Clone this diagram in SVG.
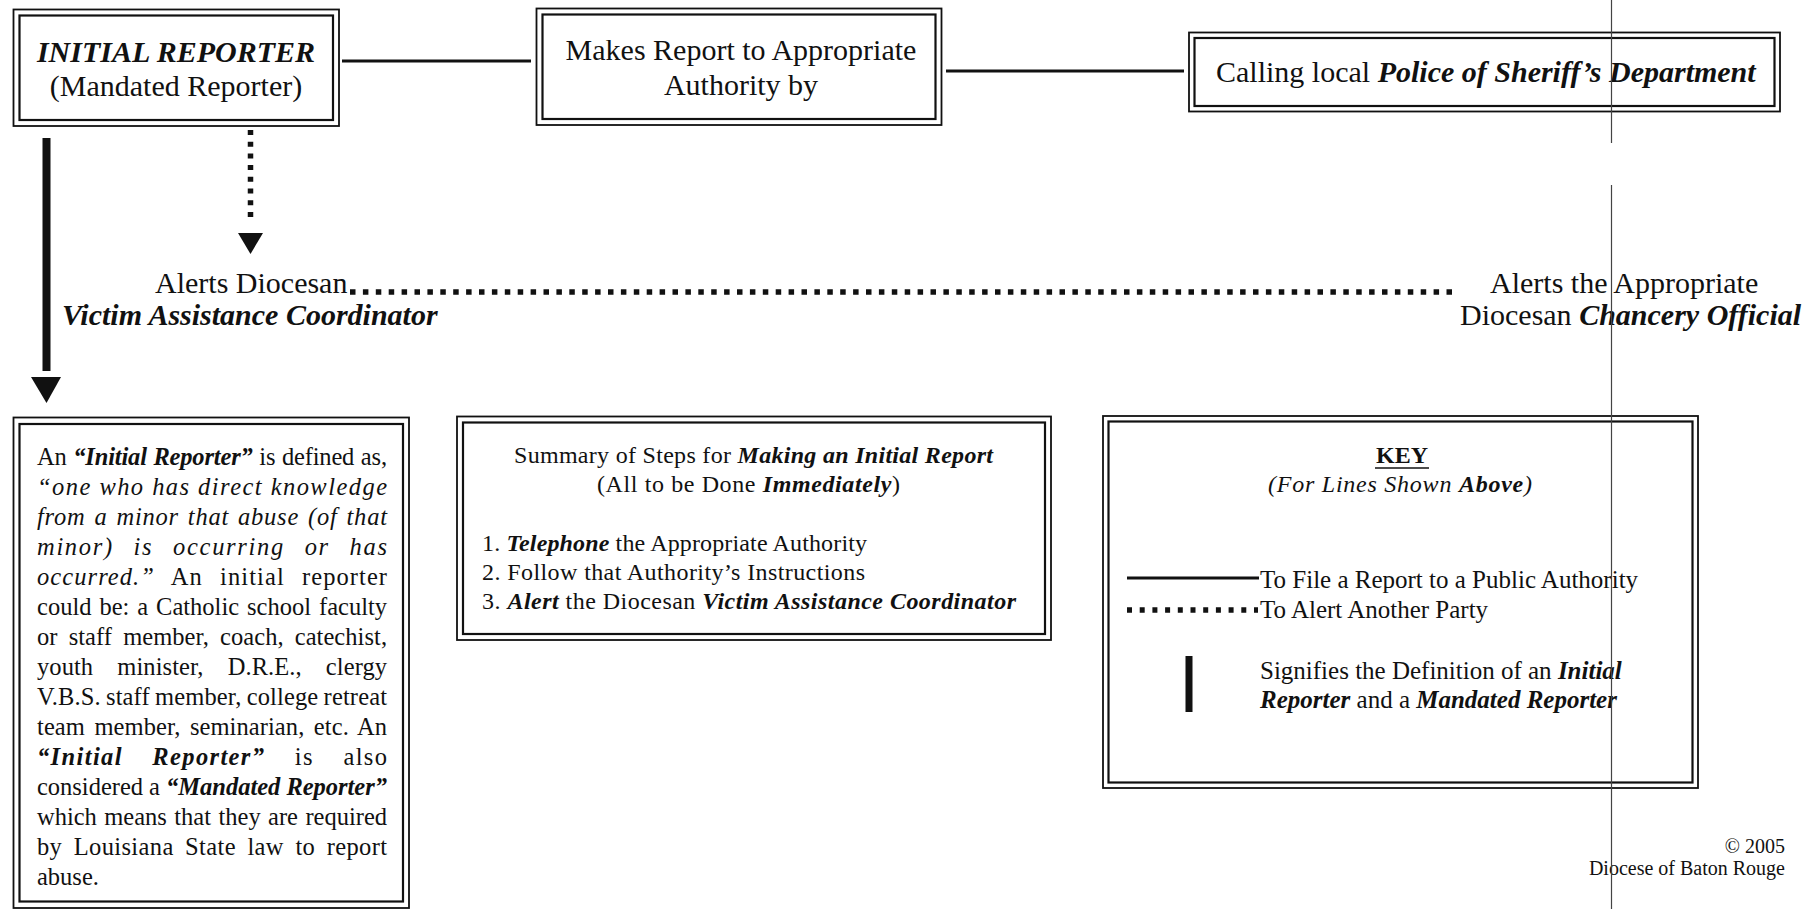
<svg xmlns="http://www.w3.org/2000/svg" width="1818" height="909" viewBox="0 0 1818 909">
<style>
  .t { font-family: "Liberation Serif", "Times New Roman", serif; fill: #111; }
  .b { font-weight: bold; }
  .i { font-style: italic; }
  .bi { font-weight: bold; font-style: italic; }
  .fo { fill: none; stroke: #111; stroke-width: 1.8; }
  .fi { fill: none; stroke: #111; stroke-width: 2.2; }
  .solid { stroke: #111; stroke-width: 3; fill: none; }
  .dots { stroke: #111; stroke-width: 5.5; fill: none; }
  .head { fill: #111; stroke: none; }
</style>
<rect width="1818" height="909" fill="#fff"/>

<g id="connectors">
  <line class="solid" x1="342" y1="61" x2="531" y2="61"/>
  <line class="solid" x1="946" y1="71" x2="1184" y2="71"/>
  <line class="dots" x1="250.5" y1="130" x2="250.5" y2="218" stroke-dasharray="5 6.7"/>
  <polygon class="head" points="238,233 263,233 250.5,254"/>
  <line class="dots" x1="350" y1="292" x2="1452" y2="292" stroke-dasharray="5.5 7.4"/>
  <rect class="head" x="42.5" y="138" width="8" height="233"/>
  <polygon class="head" points="31,377 61,377 46.5,403"/>
</g>

<g id="initial-reporter">
  <rect class="fo" x="13.5" y="9.5" width="325.5" height="116.5"/>
  <rect class="fi" x="19.5" y="15.5" width="313.5" height="104.5"/>
  <text class="t bi" x="176" y="62" font-size="30" text-anchor="middle">INITIAL REPORTER</text>
  <text class="t" x="176" y="96" font-size="30" text-anchor="middle">(Mandated Reporter)</text>
</g>

<g id="makes-report">
  <rect class="fo" x="536.5" y="8.5" width="405" height="116.5"/>
  <rect class="fi" x="542.5" y="14.5" width="393" height="104.5"/>
  <text class="t" x="741" y="60" font-size="30" text-anchor="middle">Makes Report to Appropriate</text>
  <text class="t" x="741" y="95" font-size="30" text-anchor="middle">Authority by</text>
</g>

<g id="calling-police">
  <rect class="fo" x="1189" y="32.5" width="591" height="79"/>
  <rect class="fi" x="1194.5" y="38" width="580" height="68"/>
  <text class="t" x="1216" y="82" font-size="30">Calling local <tspan class="bi">Police of Sheriff’s Department</tspan></text>
</g>

<g id="victim-coordinator">
  <text class="t" x="155" y="293" font-size="30">Alerts Diocesan</text>
  <text class="t bi" x="62" y="325" font-size="30">Victim Assistance Coordinator</text>
</g>

<g id="chancery-official">
  <text class="t" x="1490" y="293" font-size="30">Alerts the Appropriate</text>
  <text class="t" x="1460" y="325" font-size="30">Diocesan <tspan class="bi">Chancery Official</tspan></text>
</g>

<g id="definition">
  <rect class="fo" x="13.5" y="417.5" width="395.5" height="490.5"/>
  <rect class="fi" x="19.5" y="424" width="383.5" height="477.5"/>
  <g class="t" font-size="24.5">
    <text x="37" y="464.5" textLength="350" lengthAdjust="spacing" style="word-spacing:0.7px">An <tspan class="bi">“Initial Reporter”</tspan> is defined as,</text>
    <text class="i" x="37" y="494.5" textLength="350" lengthAdjust="spacing">“one who has direct knowledge</text>
    <text class="i" x="37" y="524.5" textLength="350" lengthAdjust="spacing" style="word-spacing:2px">from a minor that abuse (of that</text>
    <text class="i" x="37" y="554.5" textLength="350" lengthAdjust="spacing" style="word-spacing:12px">minor) is occurring or has</text>
    <text x="37" y="584.5" textLength="350" lengthAdjust="spacing" style="word-spacing:10px"><tspan class="i">occurred.”</tspan> An initial reporter</text>
    <text x="37" y="614.5" textLength="350" lengthAdjust="spacing" style="word-spacing:1.8px">could be: a Catholic school faculty</text>
    <text x="37" y="644.5" textLength="350" lengthAdjust="spacing" style="word-spacing:5px">or staff member, coach, catechist,</text>
    <text x="37" y="674.5" textLength="350" lengthAdjust="spacing" style="word-spacing:18px">youth minister, D.R.E., clergy</text>
    <text x="37" y="704.5" textLength="350" lengthAdjust="spacing" style="word-spacing:-1px">V.B.S. staff member, college retreat</text>
    <text x="37" y="734.5" textLength="350" lengthAdjust="spacing" style="word-spacing:3.3px">team member, seminarian, etc. An</text>
    <text x="37" y="764.5" textLength="350" lengthAdjust="spacing" style="word-spacing:22px"><tspan class="bi">“Initial Reporter”</tspan> is also</text>
    <text x="37" y="794.5" textLength="350" lengthAdjust="spacing">considered a <tspan class="bi">“Mandated Reporter”</tspan></text>
    <text x="37" y="824.5" textLength="350" lengthAdjust="spacing" style="word-spacing:1.3px">which means that they are required</text>
    <text x="37" y="854.5" textLength="350" lengthAdjust="spacing" style="word-spacing:5px">by Louisiana State law to report</text>
    <text x="37" y="884.5">abuse.</text>
  </g>
</g>

<g id="summary">
  <rect class="fo" x="457" y="416.5" width="594" height="223.5"/>
  <rect class="fi" x="463" y="422.5" width="582" height="211.5"/>
  <g class="t" font-size="24">
    <text x="514" y="463" textLength="479" lengthAdjust="spacing">Summary of Steps for <tspan class="bi">Making an Initial Report</tspan></text>
    <text x="597" y="492" textLength="303" lengthAdjust="spacing">(All to be Done <tspan class="bi">Immediately</tspan>)</text>
    <text x="482" y="551" textLength="385" lengthAdjust="spacing">1. <tspan class="bi">Telephone</tspan> the Appropriate Authority</text>
    <text x="482" y="580" textLength="383" lengthAdjust="spacing">2. Follow that Authority’s Instructions</text>
    <text x="482" y="609" textLength="534" lengthAdjust="spacing">3. <tspan class="bi">Alert</tspan> the Diocesan <tspan class="bi">Victim Assistance Coordinator</tspan></text>
  </g>
</g>

<g id="key">
  <rect class="fo" x="1103" y="416" width="595" height="372"/>
  <rect class="fi" x="1108.5" y="421.5" width="584" height="361"/>
  <text class="t b" x="1402" y="463" font-size="24" text-anchor="middle">KEY</text>
  <line x1="1375" y1="468" x2="1429" y2="468" stroke="#111" stroke-width="1.6"/>
  <text class="t i" x="1268" y="492" font-size="24" textLength="264" lengthAdjust="spacing">(For Lines Shown <tspan class="bi">Above</tspan>)</text>
  <line class="solid" x1="1127" y1="578" x2="1259" y2="578"/>
  <text class="t" x="1260" y="588" font-size="25">To File a Report to a Public Authority</text>
  <line class="dots" x1="1127" y1="610" x2="1258" y2="610" stroke-dasharray="5 7.7"/>
  <text class="t" x="1260" y="618" font-size="25">To Alert Another Party</text>
  <rect class="head" x="1185.5" y="656" width="7" height="56"/>
  <text class="t" x="1260" y="679" font-size="25">Signifies the Definition of an <tspan class="bi">Initial</tspan></text>
  <text class="t" x="1260" y="708" font-size="25"><tspan class="bi">Reporter</tspan> and a <tspan class="bi">Mandated Reporter</tspan></text>
</g>

<g id="copyright">
  <text class="t" x="1785" y="853" font-size="20" text-anchor="end">© 2005</text>
  <text class="t" x="1785" y="875" font-size="20" text-anchor="end">Diocese of Baton Rouge</text>
</g>

<g id="scan-line">
  <line x1="1611.5" y1="0" x2="1611.5" y2="143" stroke="#444" stroke-width="1.2"/>
  <line x1="1611.5" y1="185" x2="1611.5" y2="909" stroke="#444" stroke-width="1.2"/>
</g>
</svg>
